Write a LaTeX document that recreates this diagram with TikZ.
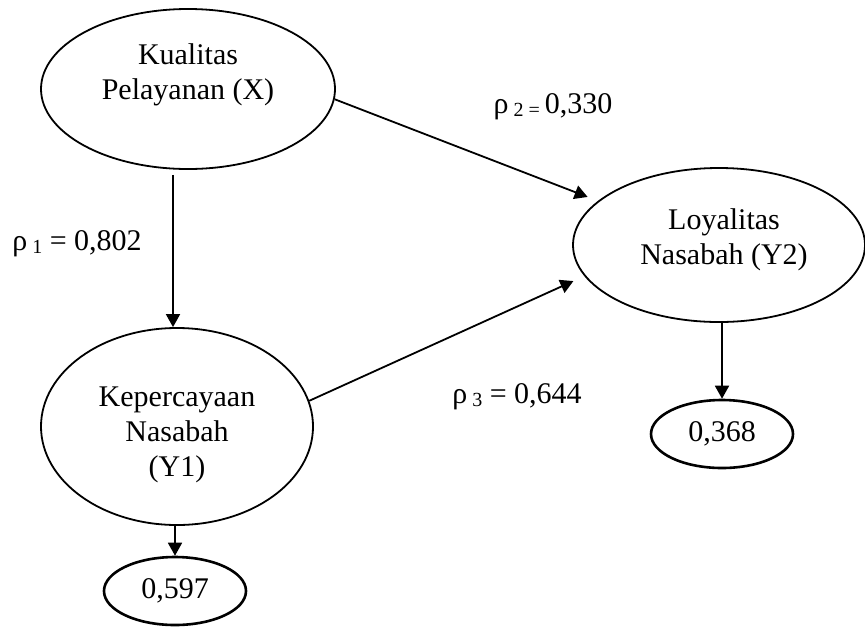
\documentclass[tikz,border=0pt]{standalone}
\usepackage{fontspec}
\setmainfont{Liberation Serif}
\usetikzlibrary{arrows.meta, shapes.geometric}

\begin{document}
\begin{tikzpicture}[x=0.5pt,y=-0.5pt,>={Triangle[length=6.5pt,width=7pt]},
  line width=0.9pt,
  var node/.style={ellipse,draw,inner sep=0pt},
  var text/.style={align=center,font=\fontsize{15}{17.5}\selectfont},
  res node/.style={ellipse,draw,line width=1.3pt,inner sep=0pt,minimum width=71pt,
    minimum height=34pt,font=\fontsize{15}{17.5}\selectfont},
  coef/.style={anchor=base,font=\fontsize{15}{17.5}\selectfont}]
  \useasboundingbox (0,0) rectangle (865,627);

  \node[var node,minimum width=147pt,minimum height=80pt,
    label={[var text,yshift=7pt]center:Kualitas\\Pelayanan (X)}] (X) at (188,89) {};
  \node[var node,minimum width=136pt,minimum height=98.5pt,
    label={[var text,yshift=-4.25pt]center:Kepercayaan\\Nasabah\\(Y1)}] (Y1) at (177,426.5) {};
  \node[var node,minimum width=146pt,minimum height=77pt,
    label={[var text,xshift=2.5pt,yshift=2.5pt]center:Loyalitas\\Nasabah (Y2)}] (Y2) at (719,245) {};
  \node[res node] (R1) at (175,591) {0,597};
  \node[res node] (R2) at (722,434) {0,368};

  \node[coef] (p1) at (77,250) {ρ\,\raisebox{-1.5pt}{\fontsize{10}{10}\selectfont 1} = 0,802};
  \node[coef] (p2) at (553,113) {ρ\,\raisebox{-1.5pt}{\fontsize{10}{10}\selectfont 2 =}\,0,330};
  \node[coef] (p3) at (517,403) {ρ\,\raisebox{-1.5pt}{\fontsize{10}{10}\selectfont 3} = 0,644};

  \path[->]
    ([xshift=-2pt]Y1.north |- X.south) edge[shorten <=2.5pt] ([xshift=-2pt]Y1.north)
    (X.-4) edge[shorten >=5.5pt] (Y2.160)
    (Y1.11) edge[shorten >=6pt] (Y2.193)
    (R1.north |- Y1.south) edge (R1.north)
    (R2.north |- Y2.south) edge (R2.north);
\end{tikzpicture}
\end{document}
